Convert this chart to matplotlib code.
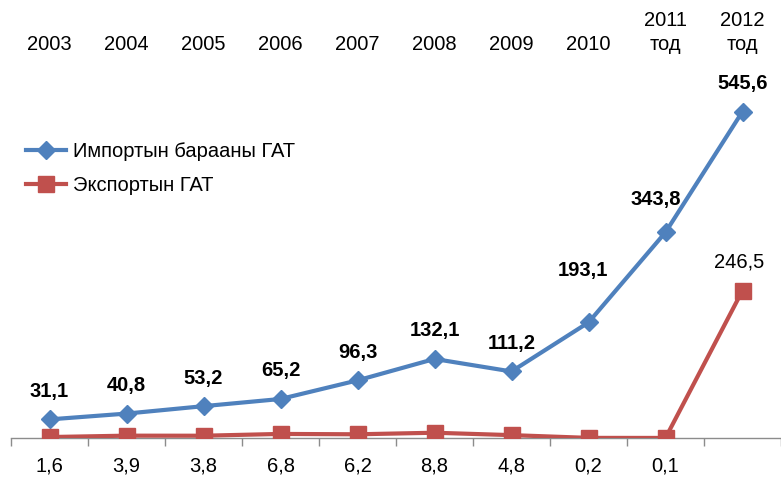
import matplotlib
matplotlib.use("Agg")
import matplotlib.pyplot as plt
import matplotlib.transforms as mtransforms

years = ["2003", "2004", "2005", "2006", "2007", "2008", "2009", "2010", "2011\nтод", "2012\nтод"]
import_vals = [31.1, 40.8, 53.2, 65.2, 96.3, 132.1, 111.2, 193.1, 343.8, 545.6]
export_vals = [1.6, 3.9, 3.8, 6.8, 6.2, 8.8, 4.8, 0.2, 0.1, 246.5]
import_name = "Импортын барааны ГАТ"
export_name = "Экспортын ГАТ"

plt.rcParams['font.family'] = ["Liberation Sans", 'DejaVu Sans']
FS = 14.5

W, H = 781, 479
fig = plt.figure(figsize=(W / 100, H / 100), dpi=100)
ax_l, ax_r = 11, 781
ax_b, ax_t = 438, 79
ax = fig.add_axes([ax_l / W, (H - ax_b) / H, (ax_r - ax_l) / W, (ax_b - ax_t) / H])

x = list(range(len(years)))
blue = "#4F81BD"
red = "#C0504D"
ax.plot(x, import_vals, color=blue, lw=3, marker="D", ms=9, label=import_name, zorder=3)
ax.plot(x, export_vals, color=red, lw=3, marker="s", ms=12, label=export_name, zorder=3)

ax.set_xlim(-0.5, len(years) - 0.5)
ax.set_ylim(0, 600)
for s in ["top", "right", "left"]:
    ax.spines[s].set_visible(False)
ax.spines["bottom"].set_color("#8C8C8C")
ax.spines["bottom"].set_linewidth(1)
ax.set_yticks([])
ax.set_xticks([i - 0.5 for i in range(len(years) + 1)])
ax.set_xticklabels([])
ax.tick_params(axis="x", length=6, color="#8C8C8C", width=1)

trans = mtransforms.blended_transform_factory(ax.transData, fig.transFigure)
for i, lab in enumerate(years):
    ax.text(i, 1 - 54 / H, lab, transform=trans, ha="center", va="bottom",
            fontsize=FS, linespacing=1.3)

# import labels (bold, above points)
for i, v in enumerate(import_vals):
    dx, dy_px = 0, 28
    if i == 7:
        dx, dy_px = -6, 52
    if i == 8:
        dx, dy_px = -10, 33
    ax.annotate(f"{v:.1f}".replace(".", ","), (i, v), xytext=(dx, dy_px),
                textcoords="offset pixels", ha="center", va="center",
                fontsize=FS, fontweight="bold")

# export labels
for i, v in enumerate(export_vals):
    s = f"{v:.1f}".replace(".", ",")
    if i == len(export_vals) - 1:
        ax.annotate(s, (i, v), xytext=(-3, 29), textcoords="offset pixels",
                    ha="center", va="center", fontsize=FS)
    else:
        ax.text(i, 1 - 466 / H, s, transform=trans, ha="center", va="center", fontsize=FS)

ax.legend(loc="upper left", bbox_to_anchor=(8 / W, 1 - 124 / H), bbox_transform=fig.transFigure,
          frameon=False, fontsize=FS, handlelength=2.0, labelspacing=0.75, handletextpad=0.35)

fig.savefig("out.png", dpi=100)
